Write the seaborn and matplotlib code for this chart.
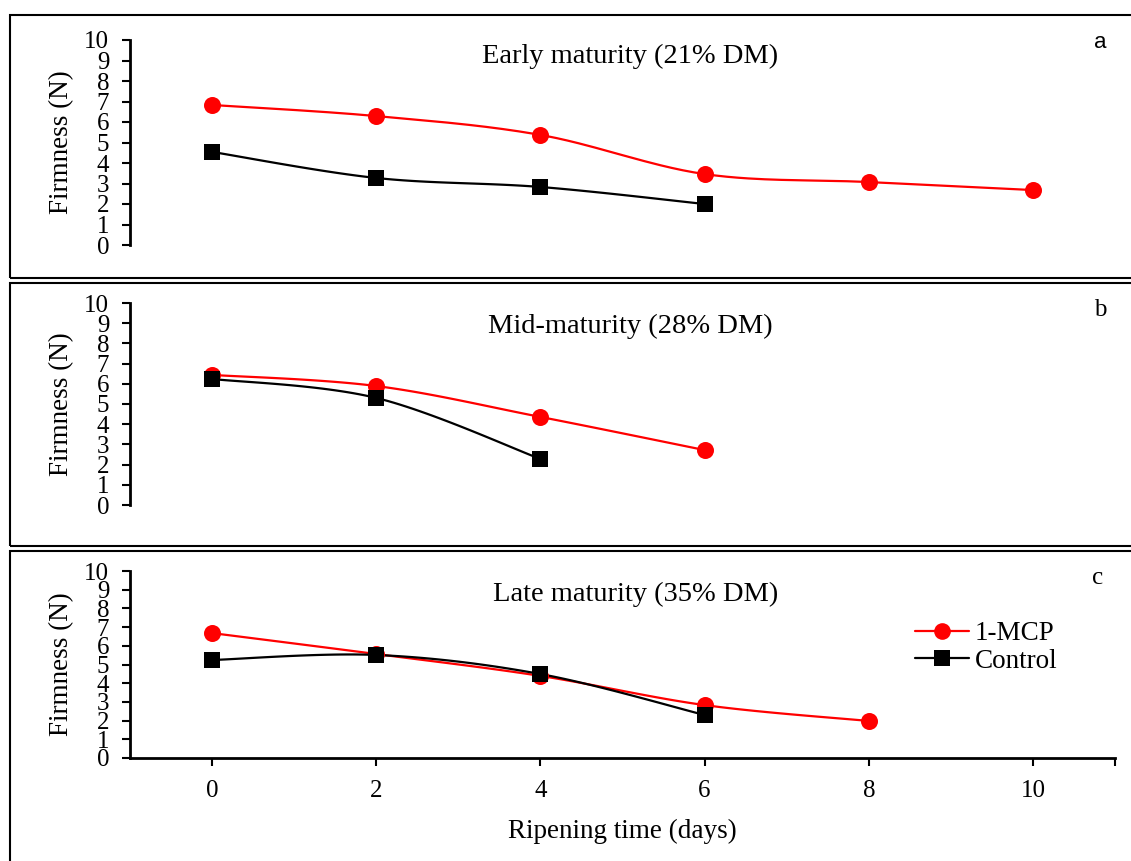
import numpy as np
import pandas as pd
import seaborn as sns
import matplotlib
matplotlib.use("Agg")
import matplotlib.pyplot as plt
from matplotlib.patches import Rectangle
from matplotlib.lines import Line2D

# ---- data ----
days_a_mcp = [0, 2, 4, 6, 8, 10]
firm_a_mcp = [6.83, 6.29, 5.37, 3.46, 3.07, 2.68]
days_a_ctl = [0, 2, 4, 6]
firm_a_ctl = [4.54, 3.27, 2.83, 2.00]

days_b_mcp = [0, 2, 4, 6]
firm_b_mcp = [6.44, 5.89, 4.36, 2.72]
days_b_ctl = [0, 2, 4]
firm_b_ctl = [6.24, 5.30, 2.28]

days_c_mcp = [0, 2, 4, 6, 8]
firm_c_mcp = [6.68, 5.56, 4.39, 2.83, 1.98]
days_c_ctl = [0, 2, 4, 6]
firm_c_ctl = [5.24, 5.51, 4.49, 2.30]

panel_titles = ["Early maturity (21% DM)", "Mid-maturity (28% DM)", "Late maturity (35% DM)"]
panel_letters = ["a", "b", "c"]
series_names = ["1-MCP", "Control"]
y_ticks = list(range(0, 11))
x_ticks = [0, 2, 4, 6, 8, 10]

sns.set_style("white")
plt.rcParams['font.family'] = ['Liberation Serif', 'DejaVu Serif']
plt.rcParams['text.color'] = 'black'
plt.rcParams['axes.labelcolor'] = 'black'
plt.rcParams['xtick.color'] = 'black'
plt.rcParams['ytick.color'] = 'black'

W, H = 1131, 861
fig = plt.figure(figsize=(W / 100, H / 100), dpi=100)


def smooth(xs, ys, n=30):
    """Catmull-Rom style bezier smoothing like spreadsheet smoothed lines."""
    pts = np.column_stack([xs, ys]).astype(float)
    if len(pts) < 3:
        return pts[:, 0], pts[:, 1]
    out = []
    for i in range(len(pts) - 1):
        p0 = pts[i - 1] if i > 0 else pts[i]
        p1 = pts[i]
        p2 = pts[i + 1]
        p3 = pts[i + 2] if i + 2 < len(pts) else pts[i + 1]
        c1 = p1 + (p2 - p0) / 6.0
        c2 = p2 - (p3 - p1) / 6.0
        t = np.linspace(0, 1, n, endpoint=(i == len(pts) - 2))[:, None]
        b = ((1 - t) ** 3) * p1 + 3 * ((1 - t) ** 2) * t * c1 + 3 * (1 - t) * t ** 2 * c2 + t ** 3 * p2
        out.append(b)
    out = np.vstack(out)
    return out[:, 0], out[:, 1]


# axes positions in pixels: (left, top_y_of_10, bottom_y_of_0)
ax_px = [(130, 40, 245), (130, 303, 505), (130, 571, 758)]
boxes_px = [(10, 15, 278), (10, 283, 546), (10, 551, 880)]
title_px = [(630, 56), (630, 326), (636, 594)]
letter_px = [(1100, 42), (1100, 310), (1098, 578)]

data = [
    (days_a_mcp, firm_a_mcp, days_a_ctl, firm_a_ctl),
    (days_b_mcp, firm_b_mcp, days_b_ctl, firm_b_ctl),
    (days_c_mcp, firm_c_mcp, days_c_ctl, firm_c_ctl),
]

for (bx, by0, by1) in boxes_px:
    fig.add_artist(Rectangle((bx / W, 1 - by1 / H), (1150 - bx) / W, (by1 - by0) / H,
                             transform=fig.transFigure, fill=False, edgecolor='black',
                             linewidth=1.5, zorder=0))

for i, ((lx, ty, by), (xm, ym, xc, yc)) in enumerate(zip(ax_px, data)):
    ax = fig.add_axes([lx / W, 1 - by / H, (1115 - lx) / W, (by - ty) / H])
    ax.set_facecolor('none')
    sx, sy = smooth(xm, ym)
    sns.lineplot(x=sx, y=sy, ax=ax, color='#ff0000', linewidth=1.6, sort=False, estimator=None)
    sx, sy = smooth(xc, yc)
    sns.lineplot(x=sx, y=sy, ax=ax, color='black', linewidth=1.6, sort=False, estimator=None)
    sns.scatterplot(x=xm, y=ym, ax=ax, marker='o', s=150, color='#ff0000', edgecolor='#ff0000',
                    linewidth=0, zorder=3)
    sns.scatterplot(x=xc, y=yc, ax=ax, marker='s', s=130, color='black', edgecolor='black',
                    linewidth=0, zorder=4)
    ax.set_xlim(-1, 11)
    ax.set_ylim(0, 10)
    ax.set_yticks(y_ticks)
    ax.set_yticklabels([str(t) for t in y_ticks], fontsize=18)
    ax.tick_params(axis='y', direction='out', length=6, width=1.5, pad=9, left=True)
    for s in ['top', 'right']:
        ax.spines[s].set_visible(False)
    ax.spines['left'].set_linewidth(2)
    ax.spines['left'].set_color('black')
    ax.set_ylabel("Firmness (N)", fontsize=19.5, labelpad=7)
    if i < 2:
        ax.spines['bottom'].set_visible(False)
        ax.set_xticks([])
        ax.set_xlabel("")
    else:
        ax.spines['bottom'].set_linewidth(2)
        ax.spines['bottom'].set_color('black')
        ax.set_xticks(x_ticks)
        ax.set_xticklabels([str(t) for t in x_ticks], fontsize=18)
        ax.set_xticks([11], minor=True)
        ax.tick_params(axis='x', which='both', direction='out', length=6, width=1.5, pad=10,
                       bottom=True)
        ax.set_xlabel("Ripening time (days)", fontsize=19.5, labelpad=12)
    legend = ax.get_legend()
    if legend:
        legend.remove()
    fig.text(title_px[i][0] / W, 1 - title_px[i][1] / H, panel_titles[i], ha='center', va='center',
             fontsize=20.5)
    if i == 0:
        fig.text(letter_px[i][0] / W, 1 - letter_px[i][1] / H, panel_letters[i], ha='center',
                 va='center', fontsize=16, family=['Liberation Sans', 'DejaVu Sans'])
    else:
        fig.text(letter_px[i][0] / W, 1 - letter_px[i][1] / H, panel_letters[i], ha='center',
                 va='center', fontsize=18)
    if i == 2:
        handles = [
            Line2D([0], [0], color='#ff0000', linewidth=1.6, marker='o', markersize=12,
                   markeredgewidth=0),
            Line2D([0], [0], color='black', linewidth=1.6, marker='s', markersize=11,
                   markeredgewidth=0),
        ]
        ax.legend(handles, series_names, loc='upper left',
                  bbox_to_anchor=(785 / 985, (758 - 621) / 187),
                  frameon=False, fontsize=19.5, handlelength=2.0, handletextpad=0.2,
                  labelspacing=0.1, borderpad=0, borderaxespad=0)

fig.savefig("out.png", dpi=100)
